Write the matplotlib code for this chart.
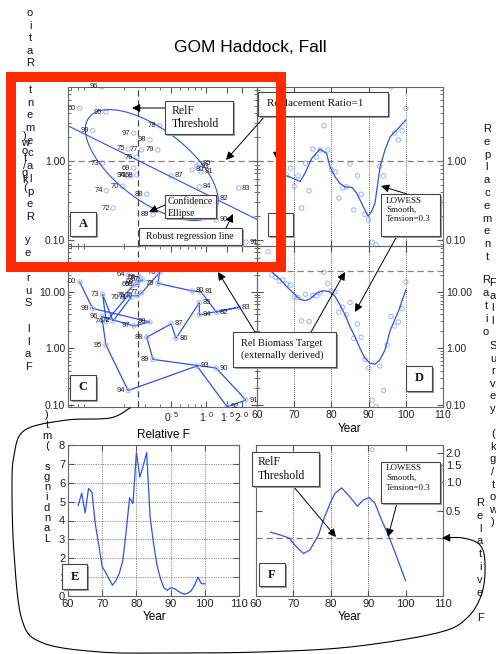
import numpy as np
import matplotlib
matplotlib.use('Agg')
import matplotlib.pyplot as plt
from matplotlib.patches import Rectangle, FancyArrowPatch
from matplotlib.lines import Line2D
from matplotlib.ticker import FixedLocator, NullFormatter, NullLocator

plt.rcParams['font.family'] = ['Liberation Sans', 'DejaVu Sans']
plt.rcParams['mathtext.fontset'] = 'custom'
plt.rcParams['mathtext.rm'] = 'Liberation Sans'
plt.rcParams['mathtext.it'] = 'Liberation Sans'

# ---- data (two-digit years, 100 = 2000) ----
years = np.arange(63, 101)
rel_f = np.array([np.nan, 0.215, 0.27, 0.26, 0.287, 0.255, 0.24, 0.193, 0.227, 0.16,
                  0.13, 0.14, 0.215, 0.255, 0.28, 0.40, 0.385, 0.757, 0.90, 1.22,
                  1.88, 0.87, 0.87, 0.55, 0.50, 0.31, 0.35, 1.21, 2.17, 1.5,
                  0.83, 0.215, 0.139, 0.128, 0.24, 0.33, 0.107, 0.083])
repl_ratio = np.array([np.nan, np.nan, np.nan, np.nan, np.nan, 0.665, 0.815, 0.48, 0.65, 0.254,
                       0.94, 0.42, 1.42, 1.12, 1.38, 2.8, 1.38, 0.77, 0.73, 0.34,
                       0.455, 0.47, 0.92, 0.24, 0.65, 0.38, 0.21, 0.18, 0.094, 0.087,
                       0.86, 0.65, 4.17, 8.7, 2.26, 1.85, 2.42, 4.65])
survey = np.array([51.7, 20.0, 18.2, 15.5, 16.3, 13.7, 13.3, 8.1, 8.0, 3.07,
                   9.1, 3.0, 8.7, 8.5, 9.6, 22.3, 14.2, 10.4, 10.0, 4.37,
                   5.36, 3.92, 6.46, 1.51, 2.72, 1.58, 0.64, 0.45, 0.122, 0.093,
                   0.49, 0.18, 1.15, 3.68, 2.5, 2.94, 5.1, 15.0])
landings = np.array([4.8, 5.45, 4.4, 5.7, 5.5, 3.8, 2.7, 1.55, 1.25, 0.9,
                     0.57, 0.82, 1.2, 1.85, 3.4, 5.2, 4.9, 7.6, 6.3, 6.9,
                     7.6, 4.2, 2.8, 1.65, 0.95, 0.45, 0.3, 0.43, 0.4, 0.28,
                     0.17, 0.09, 0.15, 0.27, 0.57, 1.0, 0.65, 0.65])

# LOWESS smooths
b_smooth_yr = [68, 69.8, 71.6, 72.9, 74.7, 76.9, 78.7, 79.6, 81, 82.3, 83.7, 85.5, 86.8,
               87.7, 89, 89.9, 90.8, 91.7, 93.1, 94.4, 95.8, 98, 100]
b_smooth = [0.65, 0.60, 0.55, 0.70, 1.08, 1.41, 1.25, 0.85, 0.63, 0.52, 0.47, 0.465, 0.39,
            0.32, 0.24, 0.20, 0.23, 0.29, 0.85, 1.38, 2.03, 2.6, 3.3]
d_smooth_yr = [63, 64.8, 66.2, 68, 69.8, 71.6, 72.9, 74.2, 76, 77.8, 79.6, 81, 82.3, 83.7,
               85, 86.3, 87.7, 89, 90.4, 91.7, 93, 94.4, 95.8, 98, 100]
d_smooth = [28, 20, 16.8, 12.4, 9.5, 7.4, 7.0, 7.5, 9.5, 10.5, 10.1, 8.3, 5.9, 3.9,
            2.43, 1.62, 1.0, 0.67, 0.55, 0.525, 0.625, 0.94, 2.1, 4.5, 10.8]
f_smooth_yr = [63.9, 66, 68.9, 70.4, 72.7, 74.4, 76.7, 78, 79.8, 81.1, 82.9, 85.1, 87.1,
               88.7, 90.3, 91.8, 93.6, 95.4, 97.6, 100]
f_smooth = [0.30, 0.285, 0.26, 0.22, 0.18, 0.196, 0.28, 0.40, 0.60, 0.76, 0.87, 0.70, 0.56,
            0.65, 0.69, 0.60, 0.40, 0.28, 0.167, 0.094]
f_point_years = [91]

relf_threshold = 0.26
biomass_target = 23.5
rr_reference = 1.0
# robust regression in log10 space: log RR = a + b log F
reg_a, reg_b = -0.422, -0.735
# confidence ellipse in log10 space: centre, major and minor semi-axis vectors
ell_c = (-0.466, -0.051)
ell_major = (0.536, -0.60)
ell_minor = (0.183, 0.365)

relf_ticks = [0.5, 1.0, 1.5, 2.0]
relf_ticklabels = [r'0$^{.5}$', r'1$^{.0}$', r'1$^{.5}$', r'2$^{.0}$']
label_right = {80, 81, 82, 83, 84, 85, 86, 87, 90, 91, 92, 93}

BLUE = '#3050ee'
LIGHT = '#a4b2f2'
DASH = '#808080'

W, H = 496, 654
fig = plt.figure(figsize=(W / 100, H / 100), dpi=100)
fig.patch.set_facecolor('white')


def P(x, y):
    return (x / W, 1 - y / H)


def add_ax(l, t, r, b):
    return fig.add_axes([l / W, 1 - b / H, (r - l) / W, (b - t) / H])


def style(ax):
    for s in ax.spines.values():
        s.set_color('#666666')
        s.set_linewidth(0.8)
    ax.tick_params(which='both', direction='in', top=True, right=True,
                   color='#555555', labelcolor='#222222', labelsize=7.5, pad=2)
    ax.tick_params(which='major', length=4)
    ax.tick_params(which='minor', length=2)
    ax.set_facecolor('none')


def year_labels(ax, xs, ys, yrs):
    for x, y, yr in zip(xs, ys, yrs):
        if np.isnan(x) or np.isnan(y):
            continue
        lab = '%02d' % (yr % 100)
        if yr in label_right:
            ax.annotate(lab, (x, y), xytext=(2.5, 0), textcoords='offset points',
                        ha='left', va='center', fontsize=5.5, color='#222222')
        else:
            ax.annotate(lab, (x, y), xytext=(-2.5, 0), textcoords='offset points',
                        ha='right', va='center', fontsize=5.5, color='#222222')


def log_y(ax, ticks, labels):
    ax.set_yscale('log')
    ax.yaxis.set_major_locator(FixedLocator(ticks))
    ax.set_yticklabels(labels)
    ax.yaxis.set_minor_formatter(NullFormatter())


def relf_x(ax):
    ax.set_xscale('log')
    ax.set_xlim(0.066, 2.7)
    ax.xaxis.set_major_locator(FixedLocator(relf_ticks))
    ax.set_xticklabels(relf_ticklabels)
    ax.xaxis.set_minor_formatter(NullFormatter())


def dotted_years(ax, yrs):
    for yv in yrs:
        ax.axvline(yv, color='#333333', ls=(0, (1, 1.5)), lw=0.6)


# ---- panel A ----
axA = add_ax(68, 87, 257, 246)
style(axA)
relf_x(axA)
log_y(axA, [0.1, 1.0], ['0.10', '1.00'])
axA.set_ylim(0.084, 8.65)
axA.tick_params(labelbottom=False, labeltop=True)
axA.axhline(rr_reference, color=DASH, ls=(0, (5, 3)), lw=0.9)
axA.axvline(relf_threshold, color='#444444', ls=(0, (5, 3)), lw=0.9)
t = np.linspace(0, 2 * np.pi, 240)
lx = ell_c[0] + ell_major[0] * np.cos(t) + ell_minor[0] * np.sin(t)
ly = ell_c[1] + ell_major[1] * np.cos(t) + ell_minor[1] * np.sin(t)
axA.plot(10 ** lx, 10 ** ly, color=BLUE, lw=0.8)
xr = np.array([0.066, 2.7])
axA.plot(xr, 10 ** (reg_a + reg_b * np.log10(xr)), color=BLUE, lw=0.8)
axA.scatter(rel_f, repl_ratio, s=10, facecolors='none', edgecolors=LIGHT, linewidths=0.7)
year_labels(axA, rel_f, repl_ratio, years)

# ---- panel B ----
axB = add_ax(257, 87, 443, 246)
style(axB)
axB.set_xlim(60, 110)
log_y(axB, [0.1, 1.0], ['0.10', '1.00'])
axB.set_ylim(0.084, 8.65)
axB.tick_params(labelleft=False, labelright=True, labelbottom=False)
axB.set_xticks([60, 70, 80, 90, 100, 110])
dotted_years(axB, [70, 80, 90, 100])
axB.axhline(rr_reference, color=DASH, ls=(0, (5, 3)), lw=0.9)
axB.scatter(years, repl_ratio, s=10, facecolors='none', edgecolors=LIGHT, linewidths=0.7)
axB.plot(b_smooth_yr, b_smooth, color=BLUE, lw=0.9)

# ---- panel C ----
axC = add_ax(68, 246, 257, 407)
style(axC)
relf_x(axC)
log_y(axC, [0.1, 1.0, 10.0], ['0.10', '1.00', '10.00'])
axC.set_ylim(0.092, 65)
axC.axvline(relf_threshold, color='#444444', ls=(0, (5, 3)), lw=0.9)
axC.axhline(biomass_target, color=DASH, ls=(0, (5, 3)), lw=0.9)
m = ~np.isnan(rel_f)
axC.plot(rel_f[m], survey[m], color=BLUE, lw=0.9)
axC.scatter(rel_f[m], survey[m], s=10, facecolors='none', edgecolors=LIGHT, linewidths=0.7,
            zorder=3)
year_labels(axC, rel_f[m], survey[m], years[m])

# ---- panel D ----
axD = add_ax(257, 246, 443, 407)
style(axD)
axD.set_xlim(60, 110)
log_y(axD, [0.1, 1.0, 10.0], ['0.10', '1.00', '10.00'])
axD.set_ylim(0.092, 65)
axD.set_xticks([60, 70, 80, 90, 100, 110])
axD.tick_params(labelleft=False, labelright=True)
dotted_years(axD, [70, 80, 90, 100])
axD.axhline(biomass_target, color=DASH, ls=(0, (5, 3)), lw=0.9)
axD.scatter(years, survey, s=10, facecolors='none', edgecolors=LIGHT, linewidths=0.7)
axD.plot(d_smooth_yr, d_smooth, color=BLUE, lw=0.9)

# ---- panel E ----
axE = add_ax(68, 445, 239, 596)
style(axE)
axE.set_xlim(60, 110)
axE.set_ylim(0, 8)
axE.set_xticks([60, 70, 80, 90, 100, 110])
axE.set_yticks(range(0, 9))
axE.tick_params(labelsize=8)
axE.grid(True, color='#333333', ls=(0, (1, 1.5)), lw=0.5)
axE.plot(years, landings, color=BLUE, lw=0.9)

# ---- panel F ----
axF = add_ax(256, 445, 443, 596)
style(axF)
axF.set_xlim(60, 110)
axF.set_yscale('log')
axF.set_ylim(0.065, 2.43)
axF.yaxis.set_major_locator(FixedLocator([0.5, 1.0, 1.5, 2.0]))
axF.set_yticklabels(['0.5', '1.0', '1.5', '2.0'])
axF.yaxis.set_minor_locator(NullLocator())
axF.set_xticks([60, 70, 80, 90, 100, 110])
axF.tick_params(labelleft=False, labelright=True, labelsize=8)
dotted_years(axF, [70, 80, 90])
axF.axhline(relf_threshold, color=DASH, ls=(0, (5, 3)), lw=0.9)
axF.plot(f_smooth_yr, f_smooth, color=BLUE, lw=0.9)
fsel = np.isin(years, f_point_years)
axF.scatter(years[fsel], rel_f[fsel], s=8, facecolors='none', edgecolors=LIGHT, linewidths=0.7)

# ---- axis titles placed as in the original ----
fig.text(250 / W, 1 - 48 / H, 'GOM Haddock, Fall', ha='center', va='center', fontsize=12.5)
fig.text(163 / W, 1 - 435 / H, 'Relative F', ha='center', va='center', fontsize=8.5)
fig.text(350 / W, 1 - 429 / H, 'Year', ha='center', va='center', fontsize=8.5)
fig.text(155 / W, 1 - 617 / H, 'Year', ha='center', va='center', fontsize=8.5)
fig.text(350 / W, 1 - 617 / H, 'Year', ha='center', va='center', fontsize=8.5)


def stack(s, x, y0, step, fs=8):
    for i, ch in enumerate(s):
        if ch != ' ':
            fig.text(x / W, 1 - (y0 + i * step) / H, ch, ha='center', va='center',
                     fontsize=fs, color='#111111')


# garbled vertical axis titles (letter stacks)
stack('Ratio'[::-1], 30, 13, 12.6)
stack('Replacement'[::-1], 30, 90, 12.7)
stack('(kg/tow)'[::-1], 25, 136, 7.4)
stack('Fall Survey'[::-1], 28, 240, 12.7)
stack('Landings (mt)'[::-1], 47, 415, 10.3)
stack('Replacement', 487, 129, 12.8)
stack('Ratio', 486, 280, 13)
stack('Fall Survey (kg/tow)', 493, 283, 12.6)
stack('Relative F', 480, 503, 12.8)


# ---- annotation boxes and arrows ----
def box(l, t, r, b, text, x=None, y=None, fs=8, va='center', weight='normal',
        ha='left', ls=1.15):
    sh = Rectangle(P(l + 2, b + 2), (r - l) / W, (b - t) / H, transform=fig.transFigure,
                   facecolor='#a0a0a0', edgecolor='none', zorder=20)
    rc = Rectangle(P(l, b), (r - l) / W, (b - t) / H, transform=fig.transFigure,
                   facecolor='white', edgecolor='#444444', lw=0.8, zorder=21)
    fig.add_artist(sh)
    fig.add_artist(rc)
    tx = fig.text((x if x is not None else (l + r) / 2) / W,
                  1 - (y if y is not None else (t + b) / 2) / H, text,
                  ha=ha, va=va, fontsize=fs, family=['Liberation Serif', 'DejaVu Serif'],
                  weight=weight, linespacing=ls, zorder=22, color='#111111')
    tx.set_clip_path(rc)


def arrow(x0, y0, x1, y1, head=True):
    fig.add_artist(FancyArrowPatch(P(x0, y0), P(x1, y1), transform=fig.transFigure,
                                   arrowstyle='-|>' if head else '-', mutation_scale=12,
                                   color='black', lw=0.7, shrinkA=0, shrinkB=0, zorder=19))


box(165, 101, 233, 134, 'RelF\nThreshold', x=172, fs=8.5)
arrow(165, 108, 132, 108)
box(258, 92, 388, 116, 'Replacement Ratio=1', x=267, fs=8)
arrow(265, 116, 226, 160)
arrow(277, 116, 277, 160)
box(165, 195, 216, 218, 'Confidence\nEllipse', x=168, y=197, va='top', fs=7, ls=1.4)
arrow(165, 205, 149, 212)
box(139, 228, 242, 245, 'Robust regression line', x=146, fs=7)
arrow(226, 228, 233, 214)
box(381, 194, 440, 236, 'LOWESS\nSmooth,\nTension=0.3', x=386, y=197, va='top', fs=6.5)
arrow(407, 194, 381, 186)
arrow(397, 236, 355, 312)
box(233, 332, 336, 367, 'Rel Biomass Target\n(externally derived)', x=241, fs=7.5, ls=1.25)
arrow(311, 332, 345, 272)
arrow(255, 332, 218, 272)
box(252, 452, 319, 486, 'RelF\nThreshold', x=258, fs=8.5)
arrow(293, 486, 336, 537)
box(381, 462, 440, 503, 'LOWESS\nSmooth,\nTension=0.3', x=386, y=464, va='top', fs=6.5,
    ls=1.3)
arrow(397, 503, 388, 537)
for l, t, r, b, letter in [(70, 212, 96, 236, 'A'), (268, 213, 293, 236, 'B'),
                           (70, 375, 96, 400, 'C'), (406, 366, 432, 391, 'D'),
                           (62, 564, 87, 589, 'E'), (259, 563, 285, 586, 'F')]:
    box(l, t, r, b, letter, ha='center', fs=9, weight='bold')


def catmull(pts, n=14):
    pts = np.asarray(pts, float)
    p = np.vstack([pts[0], pts, pts[-1]])
    out = []
    for i in range(1, len(p) - 2):
        p0, p1, p2, p3 = p[i - 1], p[i], p[i + 1], p[i + 2]
        s = np.linspace(0, 1, n, endpoint=False)[:, None]
        out.append(0.5 * (2 * p1 + (-p0 + p2) * s + (2 * p0 - 5 * p1 + 4 * p2 - p3) * s ** 2
                          + (-p0 + 3 * p1 - 3 * p2 + p3) * s ** 3))
    out.append(pts[-1:])
    return np.vstack(out)


# hand-drawn loop from panel C round panel E to the threshold in panel F
loop = catmull([(130, 408), (110, 418), (67, 420), (25, 430), (14, 455), (12, 490),
                (14, 553), (22, 620), (43, 643), (100, 652), (167, 653), (260, 652),
                (350, 647), (437, 633), (467, 618), (482, 593), (485, 563), (480, 545),
                (463, 538), (442, 538)])
fig.add_artist(Line2D(loop[:-2, 0] / W, 1 - loop[:-2, 1] / H, transform=fig.transFigure,
                      color='black', lw=0.8, zorder=19))
arrow(loop[-3, 0], loop[-3, 1], loop[-1, 0], loop[-1, 1])

# red highlight frame
fig.add_artist(Rectangle(P(11, 267), 270 / W, 190 / H, transform=fig.transFigure,
                         fill=False, edgecolor='#ff2a00', lw=7.2, joinstyle='miter',
                         zorder=30))

fig.savefig('out.png', dpi=100)
